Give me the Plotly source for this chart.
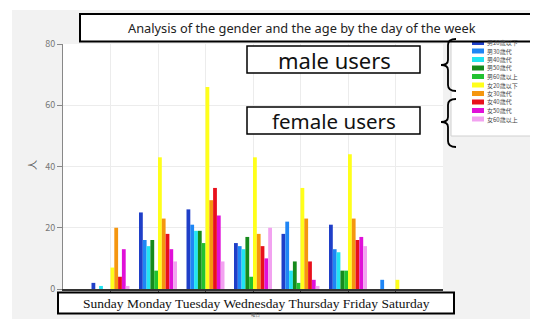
import plotly.graph_objects as go

# ---------------- data ----------------
days = ["Sunday", "Monday", "Tuesday", "Wednesday", "Thursday", "Friday", "Saturday"]
series_names = ["男20歳以下", "男30歳代", "男40歳代", "男50歳代", "男60歳以上",
                "女20歳以下", "女30歳代", "女40歳代", "女50歳代", "女60歳以上"]
male_20 = [2, 25, 26, 15, 18, 21, 0]
male_30 = [0, 16, 21, 14, 22, 13, 3]
male_40 = [1, 14, 19, 13, 6, 12, 0]
male_50 = [0, 16, 19, 17, 9, 6, 0]
male_60 = [0, 6, 15, 4, 2, 6, 0]
female_20 = [7, 43, 66, 43, 33, 44, 3]
female_30 = [20, 23, 29, 18, 23, 23, 0]
female_40 = [4, 18, 33, 14, 9, 16, 0]
female_50 = [13, 13, 24, 10, 3, 17, 0]
female_60 = [1, 9, 9, 20, 1, 14, 0]
y_ticks = [0, 20, 40, 60, 80]
title_text = "Analysis of the gender and the age by the day of the week"
x_label_text = "Sunday Monday Tuesday Wednesday Thursday Friday Saturday"

series_values = [male_20, male_30, male_40, male_50, male_60,
                 female_20, female_30, female_40, female_50, female_60]
colors = ["#1f3fc8", "#1f86f5", "#22e4f2", "#168a1c", "#22c230",
          "#ffff1a", "#f5960f", "#e8101c", "#e010d8", "#f2a2f0"]

# ---------------- layout geometry (page pixels) ----------------
PAGE_W, PAGE_H = 538, 319
OFF = 8                      # default body margin of the html page
W, H = PAGE_W - OFF, PAGE_H - OFF
PL, PR, PT, PB = 63, 443, 44, 289   # plot area in page pixels


def xp(px):
    return (px - PL) / (PR - PL)


def yp(py):
    return (PB - py) / (PB - PT)


fig = go.Figure()
for name, vals, col in zip(series_names, series_values, colors):
    fig.add_trace(go.Bar(x=days, y=vals, name=name, marker=dict(color=col, line=dict(width=0))))

shapes = []
annotations = []

# white strips outside the grey chart background
shapes.append(dict(type="rect", xref="paper", yref="paper", x0=xp(-5), x1=xp(12), y0=yp(-5), y1=yp(PAGE_H + 5),
                   fillcolor="white", line=dict(width=0), layer="above"))
shapes.append(dict(type="rect", xref="paper", yref="paper", x0=xp(-5), x1=xp(PAGE_W + 5), y0=yp(-5), y1=yp(10),
                   fillcolor="white", line=dict(width=0), layer="above"))

# legend box (drawn manually: compact spacing)
shapes.append(dict(type="rect", xref="paper", yref="paper", x0=xp(451), x1=xp(537), y0=yp(34), y1=yp(136),
                   fillcolor="white", line=dict(color="#d0d0d0", width=1), layer="above"))
for i, (name, col) in enumerate(zip(series_names, colors)):
    cy = 42.5 + i * 8.5
    shapes.append(dict(type="rect", xref="paper", yref="paper", x0=xp(472), x1=xp(484),
                       y0=yp(cy - 2.5), y1=yp(cy + 2.5), fillcolor=col, line=dict(width=0), layer="above"))
    annotations.append(dict(xref="paper", yref="paper", x=xp(486), y=yp(cy), text=name, showarrow=False,
                            xanchor="left", yanchor="middle", borderpad=0,
                            font=dict(family="Noto Sans CJK JP", size=6, color="#444")))

# title box
shapes.append(dict(type="rect", xref="paper", yref="paper", x0=xp(80), x1=xp(PAGE_W + 10), y0=yp(14), y1=yp(41.5),
                   fillcolor="white", line=dict(color="black", width=2), layer="above"))
annotations.append(dict(xref="paper", yref="paper", x=xp(302), y=yp(28), text=title_text, showarrow=False,
                        xanchor="center", yanchor="middle",
                        font=dict(family="Noto Sans", size=12.8, color="#222")))

# male / female boxes
for top, label, fs in [(46, "male users", 22), (107, "female users", 20.5)]:
    shapes.append(dict(type="rect", xref="paper", yref="paper", x0=xp(247), x1=xp(420), y0=yp(top),
                       y1=yp(top + 27), fillcolor="white", line=dict(color="black", width=1.5), layer="above"))
    annotations.append(dict(xref="paper", yref="paper", x=xp(334), y=yp(top + 14), text=label, showarrow=False,
                            xanchor="center", yanchor="middle",
                            font=dict(family="Noto Sans", size=fs, color="#111")))


# curly braces
def brace(y_top, y_mid, y_bot, x_end=456, x_v=448, x_pt=441):
    pts = []
    pts.append(f"M {xp(x_end)},{yp(y_top)}")
    pts.append(f"Q {xp(x_v)},{yp(y_top)} {xp(x_v)},{yp(y_top + 6)}")
    pts.append(f"L {xp(x_v)},{yp(y_mid - 5)}")
    pts.append(f"Q {xp(x_v)},{yp(y_mid)} {xp(x_pt)},{yp(y_mid)}")
    pts.append(f"Q {xp(x_v)},{yp(y_mid)} {xp(x_v)},{yp(y_mid + 5)}")
    pts.append(f"L {xp(x_v)},{yp(y_bot - 6)}")
    pts.append(f"Q {xp(x_v)},{yp(y_bot)} {xp(x_end)},{yp(y_bot)}")
    return " ".join(pts)


for yt, ym, yb in [(39, 65, 91), (99, 122, 147)]:
    shapes.append(dict(type="path", xref="paper", yref="paper", path=brace(yt, ym, yb),
                       line=dict(color="black", width=1.8), layer="above"))

# x label box
shapes.append(dict(type="rect", xref="paper", yref="paper", x0=xp(58), x1=xp(454), y0=yp(292.5), y1=yp(313.5),
                   fillcolor="white", line=dict(color="black", width=2), layer="above"))
annotations.append(dict(xref="paper", yref="paper", x=xp(256.5), y=yp(303), text=x_label_text, showarrow=False,
                        xanchor="center", yanchor="middle",
                        font=dict(family="Liberation Serif", size=13.5, color="#111")))
# x axis title peeking below the box
annotations.append(dict(xref="paper", yref="paper", x=xp(255), y=yp(318.5), text="曜日", showarrow=False,
                        xanchor="center", yanchor="bottom", borderpad=0,
                        font=dict(family="Noto Sans CJK JP", size=4.5, color="#666")))
# y axis title
annotations.append(dict(xref="paper", yref="paper", x=xp(31), y=yp(165), text="人", showarrow=False,
                        xanchor="center", yanchor="middle", textangle=-90,
                        font=dict(family="Noto Sans CJK JP", size=10, color="#555")))

fig.update_layout(
    width=W, height=H,
    margin=dict(l=PL - OFF, r=PAGE_W - PR, t=PT - OFF, b=PAGE_H - PB, autoexpand=False),
    barmode="group", bargap=0.2, bargroupgap=0,
    paper_bgcolor="#f2f2f2", plot_bgcolor="white",
    showlegend=False,
    font=dict(family="Noto Sans CJK JP"),
    shapes=shapes, annotations=annotations,
    xaxis=dict(type="category", categoryorder="array", categoryarray=days, range=[-1, 7],
               showgrid=True, gridcolor="#ececec", gridwidth=1,
               showline=True, linecolor="#333", linewidth=1.5,
               ticks="outside", ticklen=4, tickcolor="#555", showticklabels=False, zeroline=False),
    yaxis=dict(range=[0, 80], tickvals=y_ticks, showgrid=True, gridcolor="#ececec", gridwidth=1,
               showline=True, linecolor="#888", linewidth=1, ticks="outside", ticklen=5, tickcolor="#888",
               tickfont=dict(size=9, color="#777"), zeroline=False),
)

fig.write_html("out.html")
